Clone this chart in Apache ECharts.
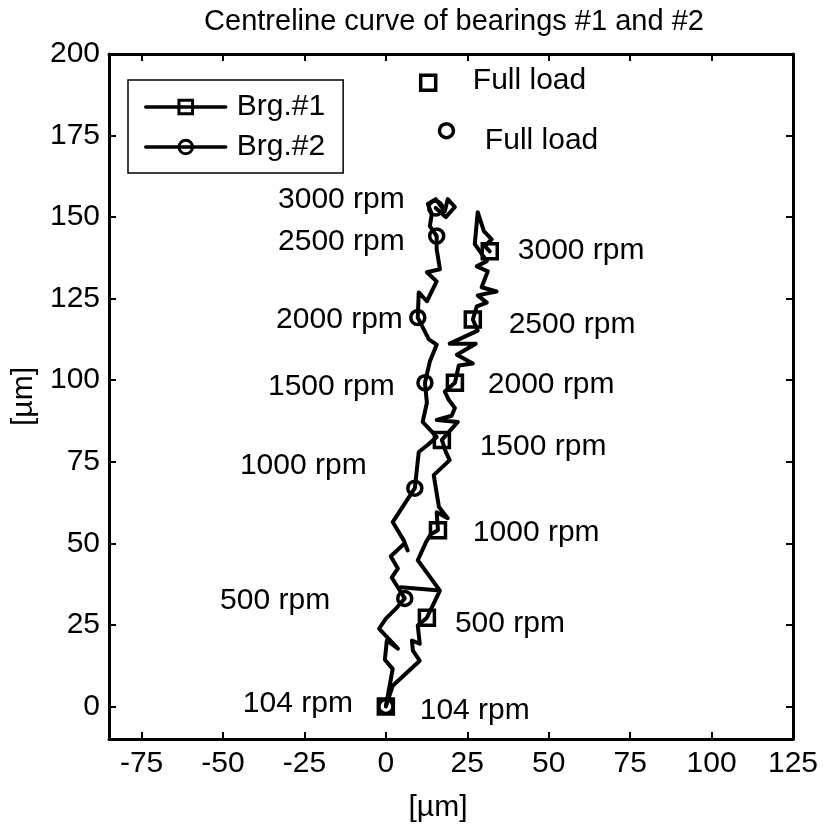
<!DOCTYPE html>
<html>
<head>
<meta charset="utf-8">
<script src="https://cdn.jsdelivr.net/npm/echarts@6/dist/echarts.min.js"></script>
<style>
  html, body { margin: 0; padding: 0; background: #fff; }
  #chart { width: 824px; height: 828px; }
</style>
</head>
<body>
<div id="chart"></div>
<script>
// values, in µm
const xTicks = [-75, -50, -25, 0, 25, 50, 75, 100, 125]
const yTicks = [0, 25, 50, 75, 100, 125, 150, 175, 200]

// Brg.#1 centreline, 104 rpm -> 3000 rpm
const brg1Path = [
  [0, 0], [2.1, 6.3], [10.4, 14.0], [8.3, 17.1], [8.0, 20.2], [10.4, 19.2], [9.8, 24.8],
  [12.6, 27.2], [16.6, 35.5], [4.6, 36.5], [16.6, 35.5], [9.8, 44.8], [12.3, 50.3], [13.8, 52.8],
  [16.0, 54.0], [15.6, 59.5], [19.0, 57.7], [16.3, 61.1], [14.7, 70.9], [19.6, 75.5], [18.4, 78.0],
  [17.2, 81.7], [22.1, 87.2], [15.6, 87.8], [20.2, 89.1], [21.2, 91.5], [19.3, 94.0], [18.1, 96.5],
  [21.2, 99.2], [22.4, 104.5], [26.7, 105.1], [21.8, 107.8], [27.6, 111.2], [19.6, 111.2], [28.2, 115.2],
  [26.7, 118.6], [27.9, 122.6], [31.0, 123.8], [28.2, 126.0], [34.0, 127.2], [29.4, 128.5], [31.3, 133.4],
  [27.9, 134.9], [31.0, 136.5], [27.3, 141.7], [28.2, 151.5], [30.1, 145.7], [32.5, 143.2], [30.4, 141.1],
  [31.9, 139.5]
]
// squares at 104, 500, 1000, 1500, 2000, 2500, 3000 rpm
const brg1Marks = [[0, 0], [12.6, 27.2], [16.0, 54.0], [17.2, 81.7], [21.2, 99.2], [26.7, 118.6], [31.9, 139.5]]

// Brg.#2 centreline, 104 rpm -> 3000 rpm
const brg2Path = [
  [0, 0], [2.1, 11.5], [-0.3, 14.3], [0.3, 20.2], [3.7, 17.7], [-2.1, 23.8], [0, 26.9], [3.4, 30.3],
  [5.8, 33.1], [1.8, 39.5], [3.7, 42.3], [1.5, 46.0], [5.8, 50.0], [6.7, 47.8], [5.5, 50.9], [2.1, 56.5],
  [8.9, 66.9], [10.1, 78.0], [12.9, 80.2], [15.6, 82.6], [11.3, 87.2], [12.6, 93.1],
  [12.0, 99.2], [13.5, 105.7], [15.6, 110.9], [13.2, 112.5],
  [9.8, 119.2], [10.1, 126.9], [12.6, 124.2], [15.6, 130.3], [12.6, 133.1], [16.6, 134.0], [15.6, 140.2],
  [15.6, 144.2], [13.5, 147.2], [14.1, 150.9], [12.9, 154.0], [15.3, 155.5], [18.1, 151.8], [19.0, 155.5],
  [21.2, 153.1], [18.4, 150.0], [15.3, 152.8]
]
// circles at 104, 500, 1000, 1500, 2000, 2500, 3000 rpm
const brg2Marks = [[0, 0], [5.8, 33.1], [8.9, 66.9], [12.0, 99.2], [9.8, 119.2], [15.6, 144.2], [15.3, 152.8]]

// full load points
const fullLoad1 = [13.0, 191.2]
const fullLoad2 = [18.6, 176.5]

// text annotations (data coords of left end of text)
const rpmLabels = ['104 rpm', '500 rpm', '1000 rpm', '1500 rpm', '2000 rpm', '2500 rpm', '3000 rpm']
const brg2LabelAt = [[-43.9, 0.8], [-50.9, 32.5], [-44.8, 73.7], [-36.2, 98.0], [-33.7, 118.6], [-33.1, 142.3], [-33.1, 155.2]]
const brg1LabelAt = [[10.4, -1.4], [21.2, 25.4], [26.7, 53.1], [28.8, 79.5], [31.3, 98.6], [37.7, 117.1], [40.5, 139.8]]
const fullLoadLabelAt = [[26.7, 191.8], [30.4, 173.4]]

const font = 'Arial, "Liberation Sans", sans-serif'
const black = '#000'

function boxAxis (ticks) {
  return {
    type: 'value',
    axisLine: { show: true, onZero: false, lineStyle: { color: black, width: 3 } },
    axisTick: { show: true, inside: true, length: 7, customValues: ticks, lineStyle: { color: black, width: 2 } },
    splitLine: { show: false }
  }
}

const labelData = []
rpmLabels.forEach((t, i) => {
  labelData.push({ name: t, value: brg2LabelAt[i] })
  labelData.push({ name: t, value: brg1LabelAt[i] })
})
fullLoadLabelAt.forEach(p => labelData.push({ name: 'Full load', value: p }))

const myChart = echarts.init(document.getElementById('chart'))
myChart.setOption({
  animation: false,
  textStyle: { fontFamily: font },
  title: {
    text: 'Centreline curve of bearings #1 and #2',
    left: 449,
    top: 2,
    textAlign: 'center',
    textStyle: { fontSize: 29, fontWeight: 'normal', color: black, fontFamily: font }
  },
  legend: {
    data: ['Brg.#1', 'Brg.#2'],
    orient: 'vertical',
    left: 128,
    top: 80,
    padding: [12, 18, 11, 16],
    itemWidth: 80,
    itemHeight: 17,
    itemGap: 10,
    borderColor: black,
    borderWidth: 1.5,
    backgroundColor: '#fff',
    selectedMode: false,
    lineStyle: { width: 3.5, color: black },
    itemStyle: { borderWidth: 3, borderColor: black, color: 'transparent' },
    textStyle: { fontSize: 30, color: black, fontFamily: font, padding: [0, 0, 0, 6] }
  },
  grid: { left: 109, right: 31, top: 54, bottom: 89, containLabel: false, outerBoundsMode: 'none' },
  xAxis: [
    Object.assign(boxAxis(xTicks), {
      min: -85, max: 125, position: 'bottom',
      axisLabel: { customValues: xTicks, fontSize: 30, color: black, margin: 10, fontFamily: font },
      name: '[µm]', nameLocation: 'middle', nameGap: 54,
      nameTextStyle: { fontSize: 30, color: black, fontFamily: font, padding: [0, 26, 0, 0] }
    }),
    Object.assign(boxAxis(xTicks), { min: -85, max: 125, position: 'top', axisLabel: { show: false } })
  ],
  yAxis: [
    Object.assign(boxAxis(yTicks), {
      min: -10, max: 200, position: 'left',
      axisLabel: { customValues: yTicks, fontSize: 30, color: black, margin: 9, fontFamily: font },
      name: '[µm]', nameLocation: 'middle', nameGap: 62, nameRotate: 90,
      nameTextStyle: { fontSize: 30, color: black, fontFamily: font }
    }),
    Object.assign(boxAxis(yTicks), { min: -10, max: 200, position: 'right', axisLabel: { show: false } })
  ],
  series: [
    {
      name: 'Brg.#1', type: 'line', data: brg1Path,
      symbol: 'rect', symbolSize: 14, showSymbol: false,
      lineStyle: { color: black, width: 4, join: 'round', cap: 'round' },
      itemStyle: { color: 'transparent', borderColor: black, borderWidth: 3 },
      z: 2
    },
    {
      name: 'Brg.#2', type: 'line', data: brg2Path,
      symbol: 'circle', symbolSize: 14, showSymbol: false,
      lineStyle: { color: black, width: 4, join: 'round', cap: 'round' },
      itemStyle: { color: 'transparent', borderColor: black, borderWidth: 3 },
      z: 2
    },
    {
      name: 'brg1 marks', type: 'scatter', data: brg1Marks.concat([fullLoad1]),
      symbol: 'rect', symbolSize: 15,
      itemStyle: { color: 'transparent', borderColor: black, borderWidth: 3.5, opacity: 1 },
      z: 3
    },
    {
      name: 'brg2 marks', type: 'scatter', data: brg2Marks.concat([fullLoad2]),
      symbol: 'circle', symbolSize: 14,
      itemStyle: { color: 'transparent', borderColor: black, borderWidth: 3.5, opacity: 1 },
      z: 3
    },
    {
      name: 'notes', type: 'scatter', data: labelData,
      symbolSize: 0, silent: true,
      itemStyle: { opacity: 1 },
      label: {
        show: true, position: 'right', distance: 0, formatter: '{b}',
        fontSize: 30, color: black, opacity: 1, fontFamily: font
      },
      z: 4
    }
  ]
})
</script>
</body>
</html>
